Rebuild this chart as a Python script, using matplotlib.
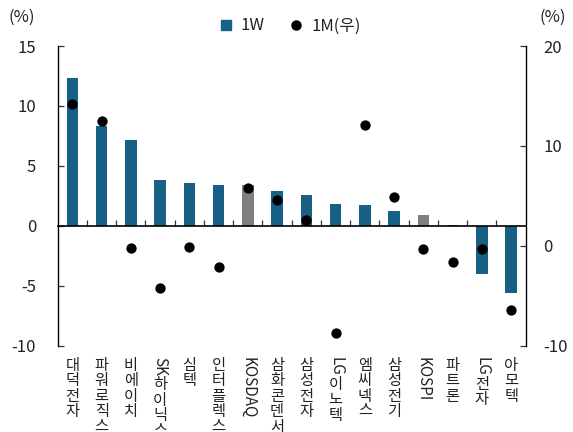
import matplotlib
matplotlib.use('Agg')
import matplotlib.pyplot as plt
import matplotlib.transforms as mtransforms
from matplotlib.lines import Line2D
import numpy as np

plt.rcParams['font.family'] = ['Noto Sans CJK KR', 'DejaVu Sans']

# 
# data
# 
names = ['대덕전자', '파워로직스', '비에이치', 'SK하이닉스', '심텍', '인터플렉스', 'KOSDAQ', '삼화콘덴서',
         '삼성전자', 'LG이노텍', '엠씨넥스', '삼성전기', 'KOSPI', '파트론', 'LG전자', '아모텍']
ret_1w = [12.3, 8.3, 7.2, 3.8, 3.6, 3.4, 3.4, 2.9, 2.6, 1.8, 1.7, 1.2, 0.9, 0.1, -4.0, -5.6]
ret_1m = [14.2, 12.5, -0.2, -4.2, -0.1, -2.1, 5.8, 4.6, 2.6, -8.7, 12.1, 4.9, -0.3, -1.6, -0.3, -6.4]
index_names = ['KOSDAQ', 'KOSPI']
left_ticks = [-10, -5, 0, 5, 10, 15]
right_ticks = [-10, 0, 10, 20]
legend_labels = ['1W', '1M(우)']

blue = '#185f86'
grey = '#808080'
tick_col = '#333333'

# 
# figure and axes
# 
fig = plt.figure(figsize=(5.73, 4.32), dpi=100)
ax = fig.add_axes([0.1007, 0.1998, 0.8168, 0.6937])
x = np.arange(len(names))
colors = [grey if n in index_names else blue for n in names]
ax.bar(x, ret_1w, width=0.39, color=colors, zorder=2)
ax.set_xlim(-0.5, len(names) - 0.5)
ax.set_ylim(-10, 15)
ax.set_yticks(left_ticks)
ax.set_yticklabels([str(v) for v in left_ticks])

ax.spines['top'].set_visible(False)
ax.spines['right'].set_visible(False)
ax.spines['bottom'].set_position(('data', 0))
ax.spines['bottom'].set_linewidth(1.2)
ax.spines['left'].set_linewidth(1.0)
ax.set_xticks(np.arange(0.5, len(names) - 1, 1.0))
ax.tick_params(axis='x', direction='in', length=4, width=0.9, color=tick_col, labelbottom=False)
ax.tick_params(axis='y', direction='in', length=4.5, width=0.9, color=tick_col, labelsize=12, pad=15.5, labelcolor='#222222')

ax2 = ax.twinx()
ax2.scatter(x, ret_1m, s=55, color='black', zorder=3, linewidths=0)
ax2.set_ylim(-10, 20)
ax2.set_yticks(right_ticks)
ax2.set_yticklabels([str(v) for v in right_ticks])
for s in ['top', 'bottom', 'left']:
    ax2.spines[s].set_visible(False)
ax2.spines['right'].set_linewidth(1.0)
ax2.tick_params(axis='y', direction='in', length=4.5, width=0.9, color=tick_col, labelsize=12, pad=12.5, labelcolor='#222222')

# 
# legend and unit labels
# 
handles = [Line2D([], [], marker='s', color=blue, ls='None', ms=6.5),
           Line2D([], [], marker='o', color='black', ls='None', ms=6.5)]
fig.legend(handles, legend_labels, loc='center', bbox_to_anchor=(289 / 573, 1 - 26 / 432), ncol=2,
           frameon=False, fontsize=12, handletextpad=0.4, columnspacing=1.4, handlelength=1.0,
           labelcolor='#222222')
fig.text(9 / 573, 1 - 17 / 432, '(%)', ha='left', va='center', fontsize=12, color='#222222')
fig.text(566 / 573, 1 - 17 / 432, '(%)', ha='right', va='center', fontsize=12, color='#222222')

# 
# vertical category labels: hangul upright, latin rotated
# 
def split_runs(s):
    runs = []
    for ch in s:
        if ch.isascii() and runs and runs[-1].isascii():
            runs[-1] += ch
        else:
            runs.append(ch)
    return runs

fig.canvas.draw()
renderer = fig.canvas.get_renderer()
base = ax.get_xaxis_transform()
for i, name in enumerate(names):
    off = 11.0  # px below axes bottom
    for run in split_runs(name):
        tr = base + mtransforms.ScaledTranslation(0, -off / fig.dpi, fig.dpi_scale_trans)
        if run.isascii():
            t = ax.text(i, 0, run, rotation=270, ha='center', va='top', fontsize=11,
                        color='#222222', transform=tr, clip_on=False)
            h = t.get_window_extent(renderer).height
            off += h + 0.5
        else:
            ax.text(i, 0, run, ha='center', va='top', fontsize=11, color='#222222',
                    transform=tr, clip_on=False)
            off += 15.5

fig.savefig('out.png', dpi=100)
print('Output to "out.png"!')
